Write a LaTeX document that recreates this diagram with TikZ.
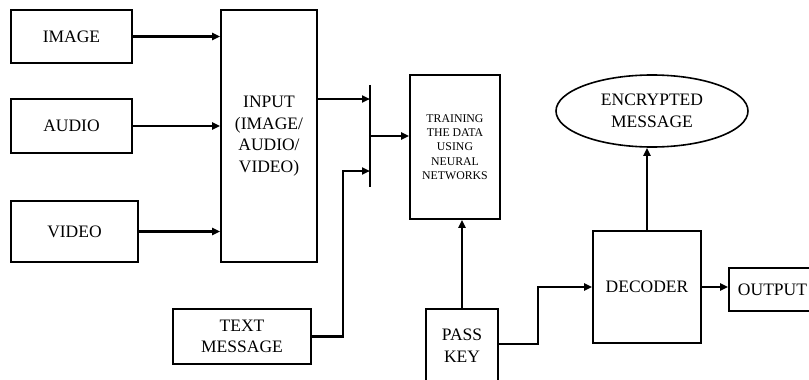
\documentclass[tikz,border=0pt]{standalone}
\usepackage{fontspec}
\setmainfont{Liberation Serif}
\usetikzlibrary{arrows.meta,shapes.geometric}
\begin{document}
\begin{tikzpicture}[x=1pt,y=-1pt,
  box/.style={draw,line width=1.6pt,inner sep=0pt,align=center,font=\fontsize{17.5}{21.7}\selectfont},
  small/.style={font=\fontsize{11.8}{14.3}\selectfont},
  arr/.style={line width=2.4pt,-{Triangle[length=8pt,width=7pt]}},
  ln/.style={line width=2.4pt}]
\clip (0,0) rectangle (809,380);
\node[box,minimum width=121,minimum height=53] (image) at (71.5,36.5) {IMAGE};
\node[box,minimum width=121,minimum height=54] (audio) at (71.5,126) {AUDIO};
\node[box,minimum width=127,minimum height=61] (video) at (74.5,231.5) {VIDEO};
\node[box,minimum width=96,minimum height=252] (input) at (269,136) {INPUT\\(IMAGE/\\AUDIO/\\VIDEO)};
\node[box,minimum width=138,minimum height=55] (text) at (242,336.5) {TEXT\\MESSAGE};
\node[inner sep=0pt,minimum width=0pt,minimum height=102] (bar) at (370,136) {};
\node[box,small,minimum width=90,minimum height=144] (train) at (455,147) {TRAINING\\THE DATA\\USING\\NEURAL\\NETWORKS};
\node[box,ellipse,minimum width=192,minimum height=72] (enc) at (652,111) {ENCRYPTED\\MESSAGE};
\node[box,minimum width=108,minimum height=112] (dec) at (647,287) {DECODER};
\node[box,minimum width=87,minimum height=43] (out) at (772.5,289.5) {OUTPUT};
\node[box,minimum width=72,minimum height=73] (pass) at (462,345.5) {PASS\\KEY};

\draw[arr] (image.east) -- (image.east -| input.west);
\draw[arr] (audio.east) -- (audio.east -| input.west);
\draw[arr] (video.east) -- (video.east -| input.west);
\draw[ln] (bar.north) -- (bar.south);
\draw[arr] (input.east |- 0,99) -- (bar |- 0,99);
\draw[arr] (text.east) -- ++(31,0) |- (bar |- 0,171);
\draw[arr] (bar) -- (bar -| train.west);
\draw[arr] (pass.north) -- (pass.north |- train.south);
\draw[arr] (pass.east |- 0,344) -- ++(39,0) |- (dec.west);
\draw[arr] (dec.north) -- (dec.north |- enc.south);
\draw[arr] (dec.east) -- (dec.east -| out.west);
\end{tikzpicture}
\end{document}
